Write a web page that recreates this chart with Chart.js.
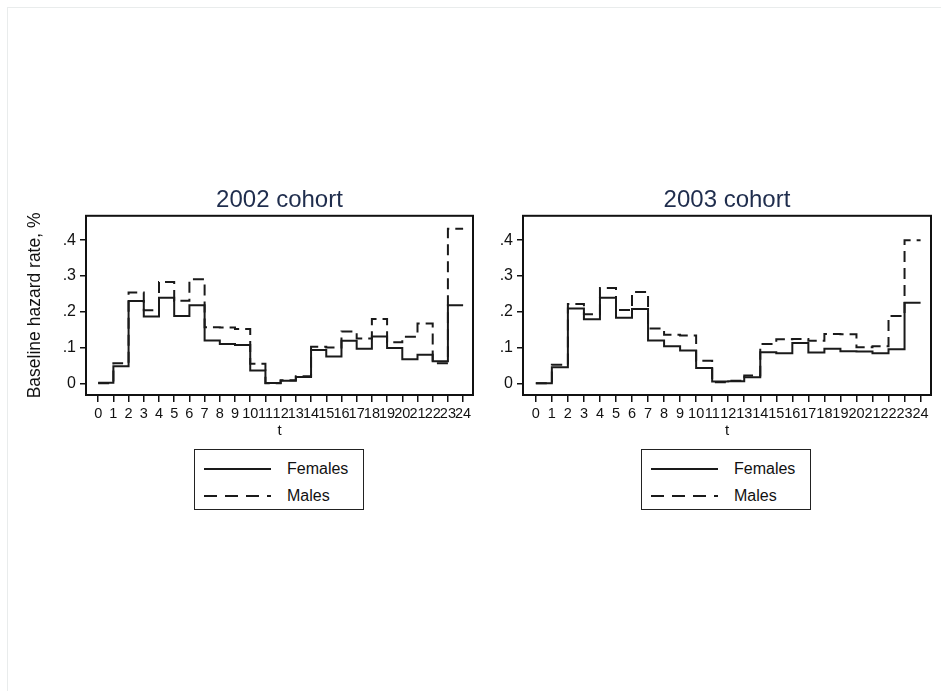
<!DOCTYPE html>
<html>
<head>
<meta charset="utf-8">
<script src="https://cdn.jsdelivr.net/npm/chart.js@4"></script>
<style>
  html, body { margin: 0; padding: 0; background: #fff; }
  body { width: 941px; height: 691px; position: relative; overflow: hidden;
         font-family: "Liberation Sans", Arial, Helvetica, sans-serif; }
  .frame { position: absolute; left: 7px; top: 7px; width: 940px; height: 690px;
           border-left: 1px solid #e9ecec; border-top: 1px solid #e9ecec; }
  canvas { position: absolute; }
  .legend { position: absolute; top: 449px; width: 168px; height: 59px;
            border: 1.5px solid #222; background: #fff; }
  .legend .row { position: absolute; left: 8px; height: 20px; display: flex; align-items: center; }
  .legend svg { width: 70px; height: 10px; }
  .legend span { margin-left: 14px; font-size: 16px; color: #111; }
</style>
</head>
<body>
<div class="frame"></div>
<canvas id="c2002" width="475" height="270" style="left:10px;top:170px"></canvas>
<canvas id="c2003" width="471" height="270" style="left:470px;top:170px"></canvas>

<div class="legend" style="left:194px">
  <div class="row" style="top:9px"><svg><line x1="1" y1="5" x2="68" y2="5" stroke="#1a1a1a" stroke-width="1.8"/></svg><span>Females</span></div>
  <div class="row" style="top:36px"><svg><line x1="1" y1="5" x2="68" y2="5" stroke="#1a1a1a" stroke-width="1.8" stroke-dasharray="13 8"/></svg><span>Males</span></div>
</div>
<div class="legend" style="left:641px">
  <div class="row" style="top:9px"><svg><line x1="1" y1="5" x2="68" y2="5" stroke="#1a1a1a" stroke-width="1.8"/></svg><span>Females</span></div>
  <div class="row" style="top:36px"><svg><line x1="1" y1="5" x2="68" y2="5" stroke="#1a1a1a" stroke-width="1.8" stroke-dasharray="13 8"/></svg><span>Males</span></div>
</div>

<script>
// time points (t) and y ticks
const tTicks = [0, 1, 2, 3, 4, 5, 6, 7, 8, 9, 10, 11, 12, 13, 14, 15, 16, 17, 18, 19, 20, 21, 22, 23, 24];
const yTicks = [0, 0.1, 0.2, 0.3, 0.4];
const yTickLabels = ['0', '.1', '.2', '.3', '.4'];

// baseline hazard for the interval [t, t+1), t = 0..23
const females2002 = [0.002, 0.048, 0.230, 0.187, 0.239, 0.188, 0.218, 0.120, 0.110, 0.107, 0.036, 0.001,
                     0.007, 0.018, 0.093, 0.075, 0.119, 0.097, 0.131, 0.099, 0.067, 0.080, 0.062, 0.218];
const males2002   = [0.000, 0.056, 0.254, 0.204, 0.283, 0.231, 0.291, 0.157, 0.156, 0.152, 0.055, 0.000,
                     0.009, 0.020, 0.102, 0.100, 0.145, 0.125, 0.180, 0.115, 0.130, 0.167, 0.056, 0.432];
const females2003 = [0.000, 0.045, 0.209, 0.179, 0.239, 0.183, 0.208, 0.120, 0.104, 0.092, 0.043, 0.005,
                     0.006, 0.017, 0.087, 0.084, 0.113, 0.086, 0.097, 0.090, 0.089, 0.084, 0.095, 0.225];
const males2003   = [0.000, 0.052, 0.222, 0.193, 0.266, 0.205, 0.255, 0.153, 0.136, 0.134, 0.063, 0.003,
                     0.007, 0.022, 0.110, 0.123, 0.124, 0.119, 0.138, 0.137, 0.101, 0.104, 0.188, 0.400];

const FONT = '"Liberation Sans", Arial, Helvetica, sans-serif';

// step series: each value holds from t to t+1, last one carried to the end
function steps(vals) {
  const pts = vals.map((v, i) => ({ x: tTicks[i], y: v }));
  pts.push({ x: tTicks[vals.length], y: vals[vals.length - 1] });
  return pts;
}

// box around the plot region
const boxPlugin = {
  id: 'box',
  afterDraw(chart) {
    const a = chart.chartArea, ctx = chart.ctx;
    ctx.save();
    ctx.strokeStyle = '#111';
    ctx.lineWidth = 2;
    ctx.strokeRect(a.left, a.top, a.right - a.left, a.bottom - a.top);
    ctx.restore();
  }
};

function makeChart(id, title, fem, mal, yWidth, padRight, showYTitle) {
  const ctx = document.getElementById(id).getContext('2d');
  return new Chart(ctx, {
    type: 'line',
    data: {
      datasets: [
        { label: 'Females', data: steps(fem), stepped: 'before', borderColor: '#1a1a1a',
          borderWidth: 2, pointRadius: 0, fill: false },
        { label: 'Males', data: steps(mal), stepped: 'before', borderColor: '#1a1a1a',
          borderWidth: 2, borderDash: [11, 6], pointRadius: 0, fill: false }
      ]
    },
    options: {
      responsive: false,
      animation: false,
      layout: { padding: { left: 0, right: padRight, top: 0, bottom: 0 } },
      plugins: {
        legend: { display: false },
        tooltip: { enabled: false },
        title: {
          display: true,
          fullSize: false,
          text: title,
          color: '#1f2d4d',
          font: { family: FONT, size: 24, weight: 'normal' },
          padding: { top: 16, bottom: 1 }
        }
      },
      scales: {
        x: {
          type: 'linear',
          min: -0.8,
          max: 24.65,
          afterBuildTicks: (s) => { s.ticks = tTicks.map(v => ({ value: v })); },
          afterFit: (s) => { s.height = 45; },
          border: { display: false },
          grid: { display: true, drawOnChartArea: false, drawTicks: true, tickLength: 7,
                  color: '#111', lineWidth: 1.5 },
          ticks: { color: '#111', padding: 3, maxRotation: 0, autoSkip: false,
                   font: { family: FONT, size: 14.5 } },
          title: { display: true, text: 't', color: '#111', padding: { top: 1, bottom: 0 },
                   font: { family: FONT, size: 15 } }
        },
        y: {
          min: -0.0325,
          max: 0.468,
          afterBuildTicks: (s) => { s.ticks = yTicks.map(v => ({ value: v })); },
          afterFit: (s) => { s.width = yWidth; },
          border: { display: false },
          grid: { display: true, drawOnChartArea: false, drawTicks: true, tickLength: 6,
                  color: '#111', lineWidth: 1.5 },
          ticks: { color: '#111', padding: 4,
                   callback: (v) => yTickLabels[yTicks.indexOf(Math.round(v * 10) / 10)],
                   font: { family: FONT, size: 16 } },
          title: { display: showYTitle, text: 'Baseline hazard rate, %', color: '#111',
                   padding: { top: 15, bottom: 0 }, font: { family: FONT, size: 17.5 } }
        }
      }
    },
    plugins: [boxPlugin]
  });
}

makeChart('c2002', '2002 cohort', females2002, males2002, 76, 12, true);
makeChart('c2003', '2003 cohort', females2003, males2003, 53, 10, false);
</script>
</body>
</html>
